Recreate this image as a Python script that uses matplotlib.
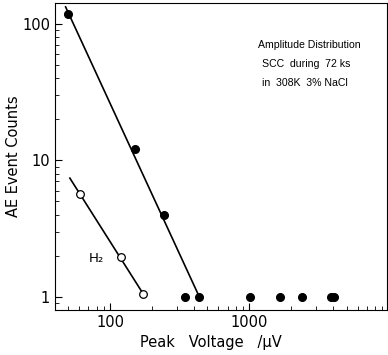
import matplotlib.pyplot as plt

# SCC amplitude distribution (filled) and H2 (open)
scc_volt = [50, 150, 245, 345, 435, 1010, 1670, 2370, 3850, 4050]
scc_counts = [118, 12, 4, 1, 1, 1, 1, 1, 1, 1]
scc_fit_volt = [48, 437]
scc_fit_counts = [133, 1]

h2_volt = [61, 120, 173]
h2_counts = [5.7, 1.95, 1.05]
h2_fit_volt = [51.5, 173]
h2_fit_counts = [7.4, 1.05]

fig = plt.figure(figsize=(3.88, 3.55), dpi=100)
ax = fig.add_axes([0.1418, 0.1268, 0.855, 0.8647])

ax.plot(scc_fit_volt, scc_fit_counts, color='k', lw=1.2)
ax.plot(scc_volt, scc_counts, 'o', color='k', ms=5.5)
ax.plot(h2_fit_volt, h2_fit_counts, color='k', lw=1.2)
ax.plot(h2_volt, h2_counts, 'o', mfc='white', mec='k', mew=0.9, ms=5.5)

ax.set_xscale('log')
ax.set_yscale('log')
ax.set_xlim(40.3, 9680)
ax.set_ylim(0.8, 142)
ax.set_xticks([100, 1000])
ax.set_xticklabels(['100', '1000'])
ax.set_yticks([1, 10, 100])
ax.set_yticklabels(['1', '10', '100'])
ax.tick_params(which='both', direction='in', labelsize=10.5, top=False, right=False)
ax.tick_params(which='major', length=5)
ax.tick_params(which='minor', length=3)

ax.set_ylabel('AE Event Counts', fontsize=10.5, labelpad=1)
fig.text(211 / 388, 1 - 342 / 355, 'Peak   Voltage   /\u03bcV', fontsize=10.5,
         ha='center', va='center')

fig.text(89 / 388, 1 - 258 / 355, 'H\u2082', fontsize=9.5, va='center')

txt = dict(fontsize=7.6, family='Liberation Sans', va='center')
fig.text(258 / 388, 1 - 45 / 355, 'Amplitude Distribution', **txt)
fig.text(262 / 388, 1 - 64 / 355, 'SCC  during  72 ks', **txt)
fig.text(262 / 388, 1 - 83 / 355, 'in  308K  3% NaCl', **txt)

plt.savefig('out.png', dpi=100)
plt.close()
